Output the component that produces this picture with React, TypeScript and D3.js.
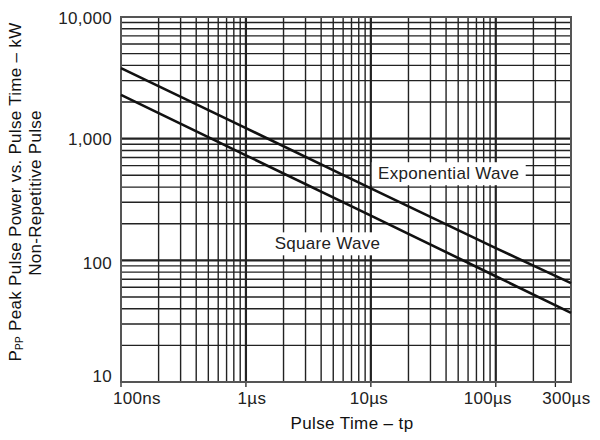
import React from "react";
import * as d3 from "d3";

// pulse time in microseconds, peak power in kW
const pulseTimesUs = [0.1, 1, 10, 100, 400];
const exponentialKw = [3800, 1220, 390, 126, 65];
const squareKw = [2290, 730, 233, 74, 37];

const xTickValues = [0.1, 1, 10, 100, 300];
const xTickLabels = ["100ns", "1\u00b5s", "10\u00b5s", "100\u00b5s", "300\u00b5s"];
const yTickValues = [10, 100, 1000, 10000];
const yTickLabels = ["10", "100", "1,000", "10,000"];

const width = 600;
const height = 440;
const plot = { left: 121, right: 571, top: 17, bottom: 382 };
const font = "'Liberation Sans', Arial, sans-serif";
const ink = "#222";

// small nudges so labels sit where the original put them
const xLabelShift = [16, 6, -2, -8, 11];
const yLabelShift = [-6, 3, 1, 1];

function minorValues(min: number, max: number) {
  const out: number[] = [];
  for (let dec = min; dec < max; dec *= 10) {
    for (let k = 1; k < 10; k++) {
      const v = dec * k;
      if (v > min * 1.0001 && v < max * 0.9999) out.push(v);
    }
  }
  return out;
}

export default function App() {
  const x = d3.scaleLog().domain([0.1, 400]).range([plot.left, plot.right]);
  const y = d3.scaleLog().domain([10, 10000]).range([plot.bottom, plot.top]);

  const line = d3
    .line<number>()
    .x((_, i) => x(pulseTimesUs[i]))
    .y((d) => y(d));

  const xGrid = minorValues(0.1, 400);
  const yGrid = minorValues(10, 10000);
  const isDecade = (v: number) => Math.abs(Math.log10(v) - Math.round(Math.log10(v))) < 1e-6;

  const expPos = { x: x(42), y: y(520) };
  const sqPos = { x: x(4.5), y: y(138) };

  return (
    <svg
      width={width}
      height={height}
      style={{ position: "absolute", left: 0, top: 0, background: "#fff" }}
      fontFamily={font}
    >
      <rect width={width} height={height} fill="#fff" />

      {/* grid */}
      <g stroke={ink}>
        {xGrid.map((v) => (
          <line
            key={"x" + v}
            x1={x(v)}
            x2={x(v)}
            y1={plot.top}
            y2={plot.bottom}
            strokeWidth={isDecade(v) ? 2.2 : 1.4}
          />
        ))}
        {yGrid.map((v) => (
          <line
            key={"y" + v}
            x1={plot.left}
            x2={plot.right}
            y1={y(v)}
            y2={y(v)}
            strokeWidth={isDecade(v) ? 2.2 : 1.4}
          />
        ))}
        {xTickValues.map((v) => (
          <line key={"t" + v} x1={x(v)} x2={x(v)} y1={plot.bottom} y2={plot.bottom + 5} strokeWidth={1.3} />
        ))}
      </g>
      <rect
        x={plot.left}
        y={plot.top}
        width={plot.right - plot.left}
        height={plot.bottom - plot.top}
        fill="none"
        stroke="#555"
        strokeWidth={2}
      />

      {/* curves */}
      <path d={line(exponentialKw) || ""} fill="none" stroke="#111" strokeWidth={2.6} />
      <path d={line(squareKw) || ""} fill="none" stroke="#111" strokeWidth={2.6} />

      {/* curve labels */}
      <rect x={expPos.x - 77} y={expPos.y - 11} width={154} height={23} fill="#fff" />
      <text x={expPos.x} y={expPos.y} fontSize={17} textAnchor="middle" dominantBaseline="central" fill="#222" letterSpacing={0.3}>
        Exponential Wave
      </text>
      <rect x={sqPos.x - 58} y={sqPos.y - 11} width={117} height={23} fill="#fff" />
      <text x={sqPos.x} y={sqPos.y} fontSize={17} textAnchor="middle" dominantBaseline="central" fill="#222" letterSpacing={0.3}>
        Square Wave
      </text>

      {/* x tick labels */}
      {xTickValues.map((v, i) => (
        <text
          key={"xl" + v}
          x={x(v) + xLabelShift[i]}
          y={plot.bottom + 16}
          fontSize={17}
          textAnchor="middle"
          dominantBaseline="central"
          fill="#222"
          letterSpacing={0.3}
        >
          {xTickLabels[i]}
        </text>
      ))}

      {/* y tick labels */}
      {yTickValues.map((v, i) => (
        <text
          key={"yl" + v}
          x={plot.left - 9}
          y={y(v) + yLabelShift[i]}
          fontSize={17}
          textAnchor="end"
          dominantBaseline="central"
          fill="#222"
          letterSpacing={0.3}
        >
          {yTickLabels[i]}
        </text>
      ))}

      {/* axis titles */}
      <text x={352} y={423} fontSize={17} textAnchor="middle" dominantBaseline="central" fill="#111" letterSpacing={0.4}>
        Pulse Time – tp
      </text>
      <g transform="translate(15,192) rotate(-90)">
        <text x={0} y={0} fontSize={17} textAnchor="middle" dominantBaseline="central" fill="#111" letterSpacing={0.3}>
          P
          <tspan fontSize={10} dy={4}>
            PP
          </tspan>
          <tspan dy={-4}> Peak Pulse Power vs. Pulse Time – kW</tspan>
        </text>
      </g>
      <g transform="translate(35,193) rotate(-90)">
        <text x={0} y={0} fontSize={17} textAnchor="middle" dominantBaseline="central" fill="#111" letterSpacing={0.3}>
          Non-Repetitive Pulse
        </text>
      </g>
    </svg>
  );
}
